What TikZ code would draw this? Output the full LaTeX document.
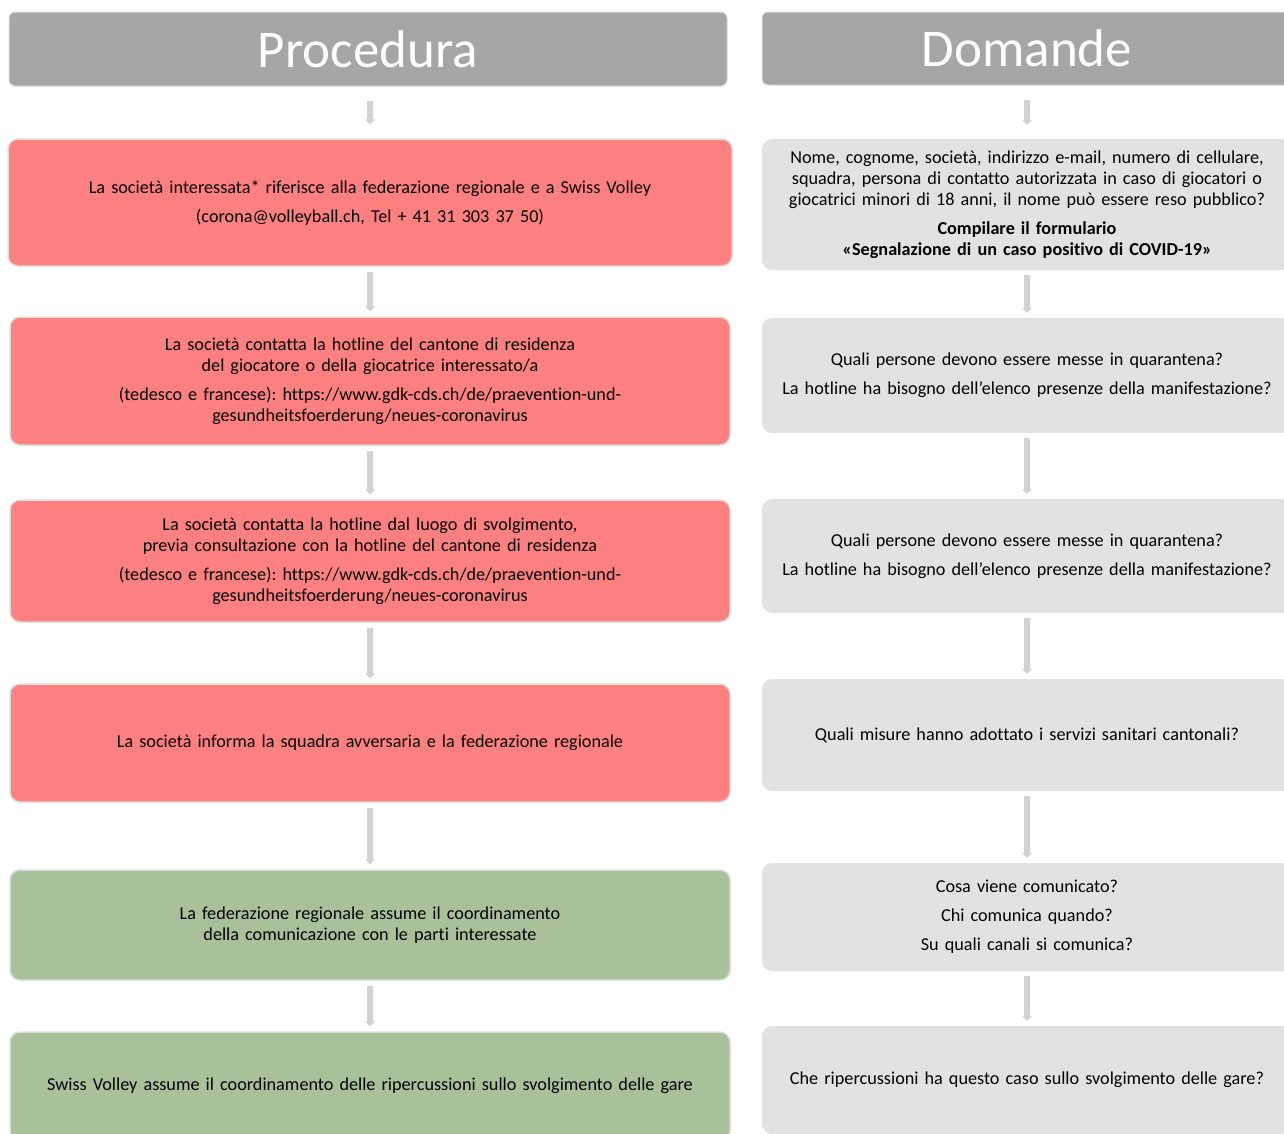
\documentclass[tikz,border=0pt]{standalone}
\usepackage{fontspec}
\setmainfont{Carlito}[Ligatures=NoCommon]
\frenchspacing
\usepackage{tikz}
\usetikzlibrary{arrows.meta}
\definecolor{headColor}{HTML}{A6A6A6}
\definecolor{procColor}{HTML}{FF8080}
\definecolor{coordColor}{HTML}{A9C19B}
\definecolor{askColor}{HTML}{E2E2E2}
\definecolor{edgeColor}{HTML}{D2D2D2}
\definecolor{rimColor}{HTML}{DDDDDD}

\begin{document}
\begin{tikzpicture}[x=1pt,y=-1pt]

          \clip (0,0) rectangle (1284,1133);

          \tikzstyle{headNode} = [fill=headColor, draw=rimColor, line width=1pt, rounded corners=6pt, text=white, font=\fontsize{53}{60}\selectfont, inner sep=0pt];
          \tikzstyle{procNode} = [fill=procColor, draw=rimColor, line width=1.5pt, rounded corners=10pt, align=center, font=\fontsize{18.2}{21}\selectfont, inner xsep=0pt, text width=720pt];
          \tikzstyle{coordNode} = [procNode, fill=coordColor];
          \tikzstyle{askNode} = [fill=askColor, rounded corners=10pt, align=center, font=\fontsize{18.2}{21}\selectfont, inner xsep=0pt, text width=530pt];

          \tikzstyle{arrowEdge} = [edgeColor, line width=6pt, -{Triangle[width=10pt,length=5pt]}, shorten <=5pt, shorten >=5pt];
          \tikzstyle{headEdge} = [arrowEdge, shorten <=14pt, shorten >=14pt];

          % left column
          \node[headNode, minimum width=718pt, minimum height=74pt] (hdrProc) at (368,49) {Procedura};
          \node[procNode, text width=724pt, minimum height=127pt] (proc1) at (370,202.5) {La società interessata* riferisce alla federazione regionale e a Swiss Volley\\[8pt](corona@volleyball.ch, Tel + 41 31 303 37 50)};
          \node[procNode, minimum height=128pt] (proc2) at (370,381) {La società contatta la hotline del cantone di residenza\\del giocatore o della giocatrice interessato/a\\[8pt](tedesco e francese): https://www.gdk-cds.ch/de/praevention-und-\\gesundheitsfoerderung/neues-coronavirus};
          \node[procNode, minimum height=122pt] (proc3) at (370,561) {La società contatta la hotline dal luogo di svolgimento,\\previa consultazione con la hotline del cantone di residenza\\[8pt](tedesco e francese): https://www.gdk-cds.ch/de/praevention-und-\\gesundheitsfoerderung/neues-coronavirus};
          \node[procNode, minimum height=118pt] (proc4) at (370,743) {La società informa la squadra avversaria e la federazione regionale};
          \node[coordNode, minimum height=110pt] (proc5) at (370,925) {La federazione regionale assume il coordinamento\\della comunicazione con le parti interessate};
          \node[coordNode, minimum height=108pt] (proc6) at (370,1086) {Swiss Volley assume il coordinamento delle ripercussioni sullo svolgimento delle gare};

          % right column
          \node[headNode, minimum width=530pt, minimum height=73pt] (hdrDom) at (1027,48.5) {Domande};
          \node[askNode, minimum height=131pt] (dom1) at (1027,204.5) {Nome, cognome, società, indirizzo e-mail, numero di cellulare,\\squadra, persona di contatto autorizzata in caso di giocatori o\\giocatrici minori di 18 anni, il nome può essere reso pubblico?\\[8pt]\textbf{Compilare il formulario}\\\textbf{«Segnalazione di un caso positivo di COVID-19»}};
          \node[askNode, minimum height=115pt] (dom2) at (1027,375.5) {Quali persone devono essere messe in quarantena?\\[8pt]La hotline ha bisogno dell’elenco presenze della manifestazione?};
          \node[askNode, minimum height=114pt] (dom3) at (1027,556) {Quali persone devono essere messe in quarantena?\\[8pt]La hotline ha bisogno dell’elenco presenze della manifestazione?};
          \node[askNode, minimum height=112pt] (dom4) at (1027,735) {Quali misure hanno adottato i servizi sanitari cantonali?};
          \node[askNode, minimum height=108pt] (dom5) at (1027,917) {Cosa viene comunicato?\\[8pt]Chi comunica quando?\\[8pt]Su quali canali si comunica?};
          \node[askNode, minimum height=108pt] (dom6) at (1027,1080) {Che ripercussioni ha questo caso sullo svolgimento delle gare?};

          \draw[headEdge] (hdrProc.south -| proc1.north) -- (proc1);
          \draw[arrowEdge] (proc1) -- (proc2);
          \draw[arrowEdge] (proc2) -- (proc3);
          \draw[arrowEdge] (proc3) -- (proc4);
          \draw[arrowEdge] (proc4) -- (proc5);
          \draw[arrowEdge] (proc5) -- (proc6);

          \draw[headEdge] (hdrDom) -- (dom1);
          \draw[arrowEdge] (dom1) -- (dom2);
          \draw[arrowEdge] (dom2) -- (dom3);
          \draw[arrowEdge] (dom3) -- (dom4);
          \draw[arrowEdge] (dom4) -- (dom5);
          \draw[arrowEdge] (dom5) -- (dom6);
        \end{tikzpicture}
\end{document}
